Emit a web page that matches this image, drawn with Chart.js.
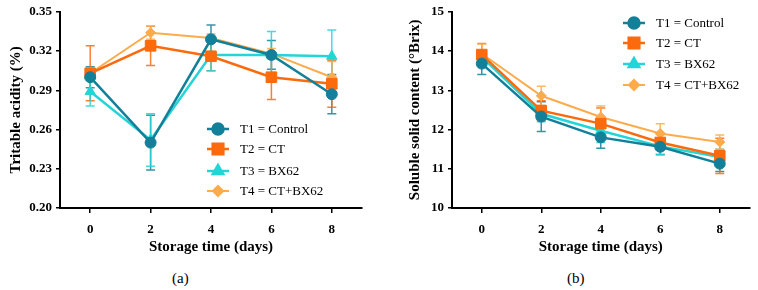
<!DOCTYPE html>
<html>
<head>
<meta charset="utf-8">
<script src="https://cdn.jsdelivr.net/npm/chart.js@4"></script>
<style>
  body { margin: 0; background: #fff; width: 758px; height: 290px; position: relative; overflow: hidden; }
  .panel { position: absolute; top: 0; }
  .tag { position: absolute; font: 15px "Liberation Serif", serif; color: #000; }
</style>
</head>
<body>
<div class="panel" style="left:0"><canvas id="chartTA" width="380" height="262"></canvas></div>
<div class="panel" style="left:380px"><canvas id="chartSSC" width="378" height="262"></canvas></div>
<div class="tag" style="left:172px; top:270px">(a)</div>
<div class="tag" style="left:567px; top:270px">(b)</div>
<script>
// dias de almacenamiento
const days = [0, 2, 4, 6, 8];
const xTicks = [0, 2, 4, 6, 8];

const treatments = ['T1 = Control', 'T2 = CT', 'T3 = BX62', 'T4 = CT+BX62'];
const colors = ['#13809a', '#fb6a0c', '#23d5d6', '#fdab4b'];
const markers = ['circle', 'rect', 'triangle', 'rectRot'];
const radios = [5.5, 7.5, 6, 5];

// Acidez titulable (%)
const taTicks = [0.20, 0.23, 0.26, 0.29, 0.32, 0.35];
const taT1 = [0.300, 0.250, 0.329, 0.317, 0.287];
const taT2 = [0.303, 0.324, 0.316, 0.300, 0.295];
const taT3 = [0.289, 0.252, 0.317, 0.317, 0.316];
const taT4 = [0.303, 0.334, 0.330, 0.318, 0.300];
const taErrT1 = [0.008, 0.021, 0.011, 0.011, 0.015];
const taErrT2 = [0.021, 0.015, 0.011, 0.017, 0.018];
const taErrT3 = [0.011, 0.020, 0.012, 0.018, 0.020];
const taErrT4 = [0.004, 0.005, 0.003, 0.004, 0.012];

// Solidos solubles (°Brix)
const sscTicks = [10, 11, 12, 13, 14, 15];
const sscT1 = [13.68, 12.33, 11.80, 11.56, 11.13];
const sscT2 = [13.91, 12.48, 12.15, 11.67, 11.33];
const sscT3 = [13.85, 12.40, 11.97, 11.57, 11.30];
const sscT4 = [13.93, 12.86, 12.32, 11.90, 11.68];
const sscErrT1 = [0.28, 0.38, 0.28, 0.20, 0.20];
const sscErrT2 = [0.28, 0.25, 0.40, 0.20, 0.45];
const sscErrT3 = [0.15, 0.20, 0.30, 0.20, 0.20];
const sscErrT4 = [0.25, 0.24, 0.28, 0.25, 0.18];

const serif = '"Liberation Serif", "Times New Roman", serif';

// barras de error dibujadas con las escalas del grafico
const errorBars = {
    id: 'errorBars',
    beforeDatasetsDraw(chart) {
        const { ctx, scales: { x, y } } = chart;
        ctx.save();
        chart.data.datasets.forEach(ds => {
            ctx.strokeStyle = ds.borderColor;
            ctx.globalAlpha = 0.85;
            ctx.lineWidth = 1.5;
            ds.data.forEach((p, j) => {
                const px = x.getPixelForValue(p.x);
                const top = y.getPixelForValue(p.y + ds.errors[j]);
                const bot = y.getPixelForValue(p.y - ds.errors[j]);
                ctx.beginPath();
                ctx.moveTo(px, top); ctx.lineTo(px, bot);
                ctx.moveTo(px - 4.5, top); ctx.lineTo(px + 4.5, top);
                ctx.moveTo(px - 4.5, bot); ctx.lineTo(px + 4.5, bot);
                ctx.stroke();
            });
        });
        ctx.restore();
    }
};

// leyenda con linea y marcador
const lineLegend = {
    id: 'lineLegend',
    afterDraw(chart, args, opts) {
        const ctx = chart.ctx;
        ctx.save();
        chart.data.datasets.forEach((ds, i) => {
            const y = opts.ys[i];
            ctx.strokeStyle = ds.borderColor;
            ctx.fillStyle = ds.borderColor;
            ctx.lineWidth = ds.borderWidth;
            ctx.beginPath();
            ctx.moveTo(opts.x, y);
            ctx.lineTo(opts.x + 22, y);
            ctx.stroke();
            Chart.helpers.drawPoint(ctx, {
                pointStyle: ds.pointStyle, radius: ds.pointRadius, rotation: 0, borderWidth: 1
            }, opts.x + 11, y);
            ctx.fillStyle = '#000';
            ctx.font = '13px ' + serif;
            ctx.textBaseline = 'middle';
            ctx.fillText(ds.label, opts.x + 33, y + 1);
        });
        ctx.restore();
    }
};

const makeDatasets = (series, errs) => series.map((vals, i) => ({
    label: treatments[i],
    data: days.map((d, j) => ({ x: d, y: vals[j] })),
    errors: errs[i],
    borderColor: colors[i],
    backgroundColor: colors[i],
    borderWidth: i === 3 ? 2 : 2.5,
    pointStyle: markers[i],
    pointRadius: radios[i],
    pointHoverRadius: radios[i],
    pointBorderWidth: 1,
    tension: 0,
    clip: false
}));

const makeChart = (id, datasets, yTicks, yMin, yMax, yTitle, yDigits, pad, yWidth, legendX, legendYs) => {
    const ctx = document.getElementById(id).getContext('2d');
    return new Chart(ctx, {
        type: 'line',
        data: { datasets: datasets },
        plugins: [errorBars, lineLegend],
        options: {
            responsive: false,
            animation: false,
            layout: { padding: pad },
            plugins: {
                legend: { display: false },
                tooltip: { enabled: false },
                lineLegend: { x: legendX, ys: legendYs }
            },
            scales: {
                x: {
                    type: 'linear',
                    min: -1,
                    max: 9,
                    afterBuildTicks: s => { s.ticks = xTicks.map(v => ({ value: v })); },
                    afterFit: s => { s.height = 54; },
                    grid: { drawOnChartArea: false, drawTicks: true, tickLength: 5, color: '#000', lineWidth: 1.5 },
                    border: { color: '#000', width: 2 },
                    ticks: { color: '#000', padding: 9, font: { family: serif, size: 13, weight: 'bold' } },
                    title: {
                        display: true, text: 'Storage time (days)', color: '#000',
                        font: { family: serif, size: 15, weight: 'bold' }, padding: { top: 4, bottom: 6 }
                    }
                },
                y: {
                    min: yMin,
                    max: yMax,
                    afterBuildTicks: s => { s.ticks = yTicks.map(v => ({ value: v })); },
                    afterFit: s => { s.width = yWidth; },
                    grid: { drawOnChartArea: false, drawTicks: true, tickLength: 4, color: '#000', lineWidth: 1.5 },
                    border: { color: '#000', width: 2 },
                    ticks: {
                        color: '#000', padding: 4,
                        font: { family: serif, size: 13, weight: 'bold' },
                        callback: v => v.toFixed(yDigits)
                    },
                    title: {
                        display: true, text: yTitle, color: '#000',
                        font: { family: serif, size: 15, weight: 'bold' }, padding: 0
                    }
                }
            }
        }
    });
};

makeChart('chartTA',
    makeDatasets([taT1, taT2, taT3, taT4], [taErrT1, taErrT2, taErrT3, taErrT4]),
    taTicks, 0.20, 0.35, 'Tritable acidity (%)', 2,
    { left: 7, right: 18, top: 8, bottom: 0 }, 53, 207, [129, 149, 171, 191]);

makeChart('chartSSC',
    makeDatasets([sscT1, sscT2, sscT3, sscT4], [sscErrT1, sscErrT2, sscErrT3, sscErrT4]),
    sscTicks, 10, 15, 'Soluble solid content (°Brix)', 0,
    { left: 26, right: 8, top: 8, bottom: 0 }, 46, 243, [23, 43, 64, 85]);
</script>
</body>
</html>
